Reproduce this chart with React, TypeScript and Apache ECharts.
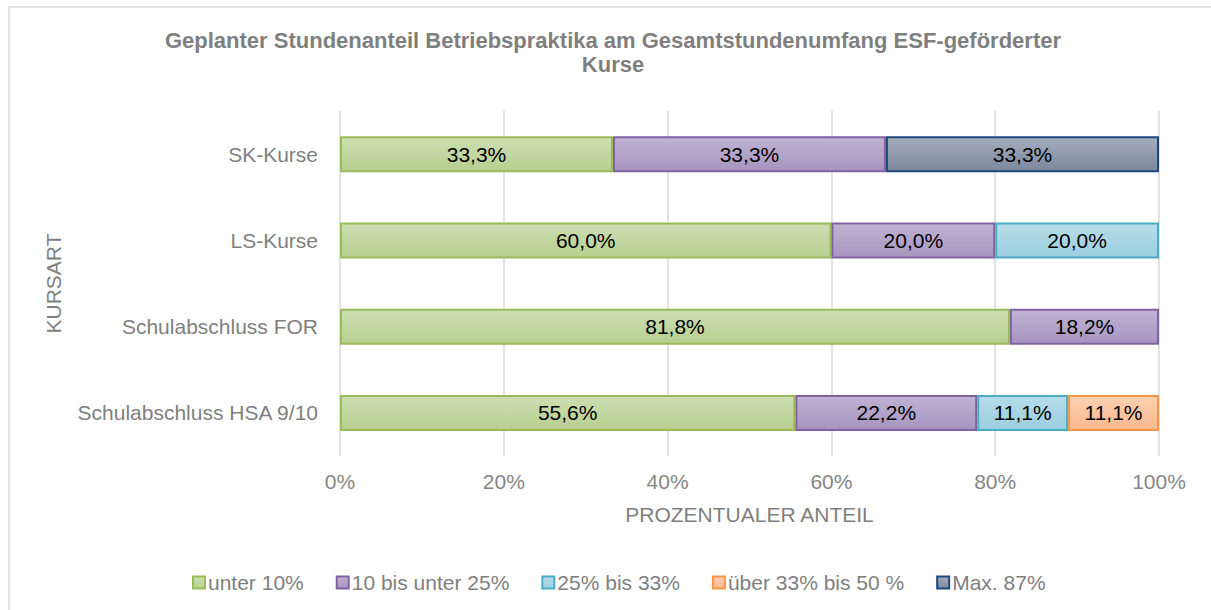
import React, { useEffect, useRef } from "react";
import * as echarts from "echarts";

const categories = ["Schulabschluss HSA 9/10", "Schulabschluss FOR", "LS-Kurse", "SK-Kurse"];
const seriesNames = ["unter 10%", "10 bis unter 25%", "25% bis 33%", "über 33% bis 50 %", "Max. 87%"];
// values per category (bottom to top): HSA, FOR, LS, SK
const unter10 = [55.6, 81.8, 60.0, 33.33];
const bis25 = [22.2, 18.2, 20.0, 33.33];
const bis33 = [11.1, null, 20.0, null];
const bis50 = [11.1, null, null, null];
const max87 = [null, null, null, 33.34];
const xTicks = [0, 20, 40, 60, 80, 100];

const FONT = "'Liberation Sans', Arial, sans-serif";

const styles = [
  { top: "#cddfb3", bottom: "#b7cf90", border: "#9bbb59" },
  { top: "#c0b3d3", bottom: "#a794bf", border: "#8064a2" },
  { top: "#b6dce9", bottom: "#9bcfe0", border: "#4bacc6" },
  { top: "#fdd0b3", bottom: "#fab88e", border: "#f79646" },
  { top: "#a5aebd", bottom: "#7b879c", border: "#1f497d" },
];

export default function App() {
  const ref = useRef<HTMLDivElement>(null);
  useEffect(() => {
    if (!ref.current) return;
    const chart = echarts.init(ref.current, null, { renderer: "svg" });
    const datasets = [unter10, bis25, bis33, bis50, max87];
    const series = datasets.map((d, i) => ({
      name: seriesNames[i],
      type: "bar",
      stack: "total",
      barWidth: 36,
      data: d.map((v) => (v === null ? "-" : v)),
      itemStyle: {
        color: new echarts.graphic.LinearGradient(0, 0, 0, 1, [
          { offset: 0, color: styles[i].top },
          { offset: 1, color: styles[i].bottom },
        ]),
        borderColor: styles[i].border,
        borderWidth: 2,
      },
      label: {
        show: true,
        position: "inside",
        color: "#000",
        fontSize: 21,
        fontFamily: FONT,
        formatter: (p: any) => Number(p.value).toFixed(1).replace(".", ",") + "%",
      },
    }));
    chart.setOption({
      animation: false,
      backgroundColor: "#fff",
      graphic: [
        {
          type: "rect",
          shape: { x: 9, y: 7, width: 1400, height: 800 },
          style: { fill: "none", stroke: "#d9d9d9", lineWidth: 1.5 },
          silent: true,
        },
        {
          type: "text",
          x: 613,
          y: 28,
          style: {
            text: "Geplanter Stundenanteil Betriebspraktika am Gesamtstundenumfang ESF-geförderter\nKurse",
            fill: "#7f7f7f",
            font: "bold 22px " + FONT,
            textAlign: "center",
            textVerticalAlign: "top",
            lineHeight: 24,
          },
        },
      ],
      legend: {
        left: 187,
        top: 567,
        itemWidth: 12,
        itemHeight: 12,
        itemGap: 32,
        icon: "rect",
        data: seriesNames,
        textStyle: { color: "#7f7f7f", fontSize: 21, fontFamily: FONT, padding: [0, 0, 0, -2] },
      },
      grid: { left: 340, right: 52, top: 111, bottom: 154, containLabel: false },
      xAxis: {
        type: "value",
        min: xTicks[0],
        max: xTicks[xTicks.length - 1],
        interval: xTicks[1] - xTicks[0],
        name: "PROZENTUALER ANTEIL",
        nameLocation: "middle",
        nameGap: 48,
        nameTextStyle: { color: "#7f7f7f", fontSize: 21, fontFamily: FONT },
        axisLine: { show: false },
        axisTick: { show: false },
        splitLine: { show: true, lineStyle: { color: "#d9d9d9", width: 1.5 } },
        axisLabel: {
          color: "#868686",
          fontSize: 21,
          fontFamily: FONT,
          margin: 15,
          formatter: (v: number) => v + "%",
        },
      },
      yAxis: {
        type: "category",
        data: categories,
        name: "KURSART",
        nameLocation: "middle",
        nameRotate: 90,
        nameGap: 276,
        nameTextStyle: { color: "#7f7f7f", fontSize: 21, fontFamily: FONT },
        axisLine: { show: false },
        axisTick: { show: false },
        axisLabel: { color: "#7f7f7f", fontSize: 21, fontFamily: FONT, margin: 22 },
      },
      series,
    });
    return () => chart.dispose();
  }, []);
  return (
    <div
      ref={ref}
      style={{ position: "absolute", left: 0, top: 0, width: 1211, height: 610 }}
    />
  );
}
